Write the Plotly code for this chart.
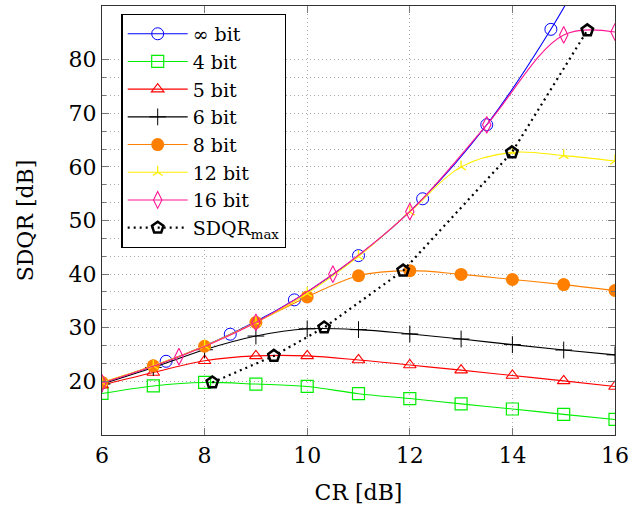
import plotly.graph_objects as go

# ---- data ----
cr_int = [6, 7, 8, 9, 10, 11, 12, 13, 14, 15, 16]

cr_inf = [6, 7.25, 8.5, 9.75, 11, 12.25, 13.5, 14.75, 16]
sdqr_inf = [19.7, 23.75, 28.8, 35.2, 43.45, 54.05, 67.85, 85.65, 107.0]

sdqr_4bit = [17.75, 19.15, 19.8, 19.5, 19.05, 17.7, 16.8, 15.8, 14.85, 13.85, 12.9]
sdqr_5bit = [19.3, 21.65, 23.85, 24.75, 24.75, 24.0, 23.05, 22.1, 21.1, 20.1, 19.05]
sdqr_6bit = [19.5, 22.6, 25.9, 28.45, 29.8, 29.65, 28.85, 27.9, 26.85, 25.85, 24.95]
sdqr_8bit = [19.8, 22.9, 26.55, 31.0, 35.75, 39.7, 40.65, 39.95, 39.0, 38.05, 36.95]
sdqr_12bit = [19.8, 22.9, 26.6, 31.0, 36.4, 43.3, 51.6, 60.0, 62.7, 62.1, 61.1]

cr_16 = [6, 7.5, 9, 10.5, 12, 13.5, 15, 16]
sdqr_16bit = [19.7, 24.6, 31.0, 40.0, 51.65, 67.85, 84.6, 85.15]

cr_max = [8.15, 9.35, 10.33, 11.87, 13.99, 15.46]
sdqr_max = [19.8, 24.75, 30.05, 40.65, 62.7, 85.45]

x_ticks = [6, 8, 10, 12, 14, 16]
y_ticks = [20, 30, 40, 50, 60, 70, 80]
y_minor = [23.33, 26.67, 33.33, 36.67, 43.33, 46.67, 53.33, 56.67,
           63.33, 66.67, 73.33, 76.67]

FONT = "DejaVu Serif"

series = [
    ("∞ bit", cr_inf, sdqr_inf, "#0000ff", "circle-open", 12, 1.0),
    ("4 bit", cr_int, sdqr_4bit, "#00ee00", "square-open", 12, 1.2),
    ("5 bit", cr_int, sdqr_5bit, "#ff0000", "triangle-up-open", 11, 1.1),
    ("6 bit", cr_int, sdqr_6bit, "#000000", "cross-thin-open", 12, 1.0),
    ("8 bit", cr_int, sdqr_8bit, "#ff8000", "circle", 13, 0),
    ("12 bit", cr_int, sdqr_12bit, "#ffee00", "y-up-open", 8, 1.3),
    ("16 bit", cr_16, sdqr_16bit, "#ff1493", "diamond-tall-open", 12, 1.1),
]

fig = go.Figure()
for name, xs, ys, col, sym, size, lw in series:
    fig.add_trace(go.Scatter(
        x=xs, y=ys, name=name, mode="lines+markers",
        line=dict(color=col, width=1.1, shape="spline"),
        marker=dict(symbol=sym, size=size, color=col,
                    line=dict(color=col, width=lw)),
    ))

fig.add_trace(go.Scatter(
    x=cr_max, y=sdqr_max, name="SDQR<sub>max</sub>", mode="lines+markers",
    line=dict(color="black", width=2.2, dash="2px,4px"),
    marker=dict(symbol="pentagon-open", size=12, color="black",
                line=dict(color="black", width=2.5)),
))

grid_dash = "1px,3px"
axis_common = dict(
    showline=True, linecolor="#333333", linewidth=1.3, mirror="ticks",
    ticks="inside", ticklen=7, tickwidth=1, tickcolor="#777777",
    showgrid=True, gridcolor="#aaaaaa", griddash=grid_dash, gridwidth=1,
    zeroline=False, ticklabeloverflow="allow",
    tickfont=dict(family=FONT, size=22, color="black"),
)

fig.update_xaxes(
    range=[6, 16], tickmode="array", tickvals=x_ticks,
    title=dict(text="CR [dB]", font=dict(family=FONT, size=22, color="black"), standoff=18),
    **axis_common,
)
fig.update_yaxes(
    range=[10, 90], tickmode="array", tickvals=y_ticks,
    minor=dict(tickmode="array", tickvals=y_minor, ticks="inside", ticklen=4,
               tickcolor="#777777", showgrid=True, gridcolor="#aaaaaa",
               griddash=grid_dash, gridwidth=1),
    title=dict(text="SDQR [dB]", font=dict(family=FONT, size=22, color="black"), standoff=28),
    **axis_common,
)

fig.update_layout(
    width=634, height=514,
    margin=dict(l=102, r=14, t=5, b=79),
    paper_bgcolor="white", plot_bgcolor="white",
    font=dict(family=FONT, color="black"),
    legend=dict(
        x=0.038, y=0.982, xanchor="left", yanchor="top",
        bgcolor="white", bordercolor="black", borderwidth=1.2,
        font=dict(family=FONT, size=19, color="black"),
        tracegroupgap=0, itemwidth=60,
    ),
    showlegend=True,
)

fig.write_html("out.html")
